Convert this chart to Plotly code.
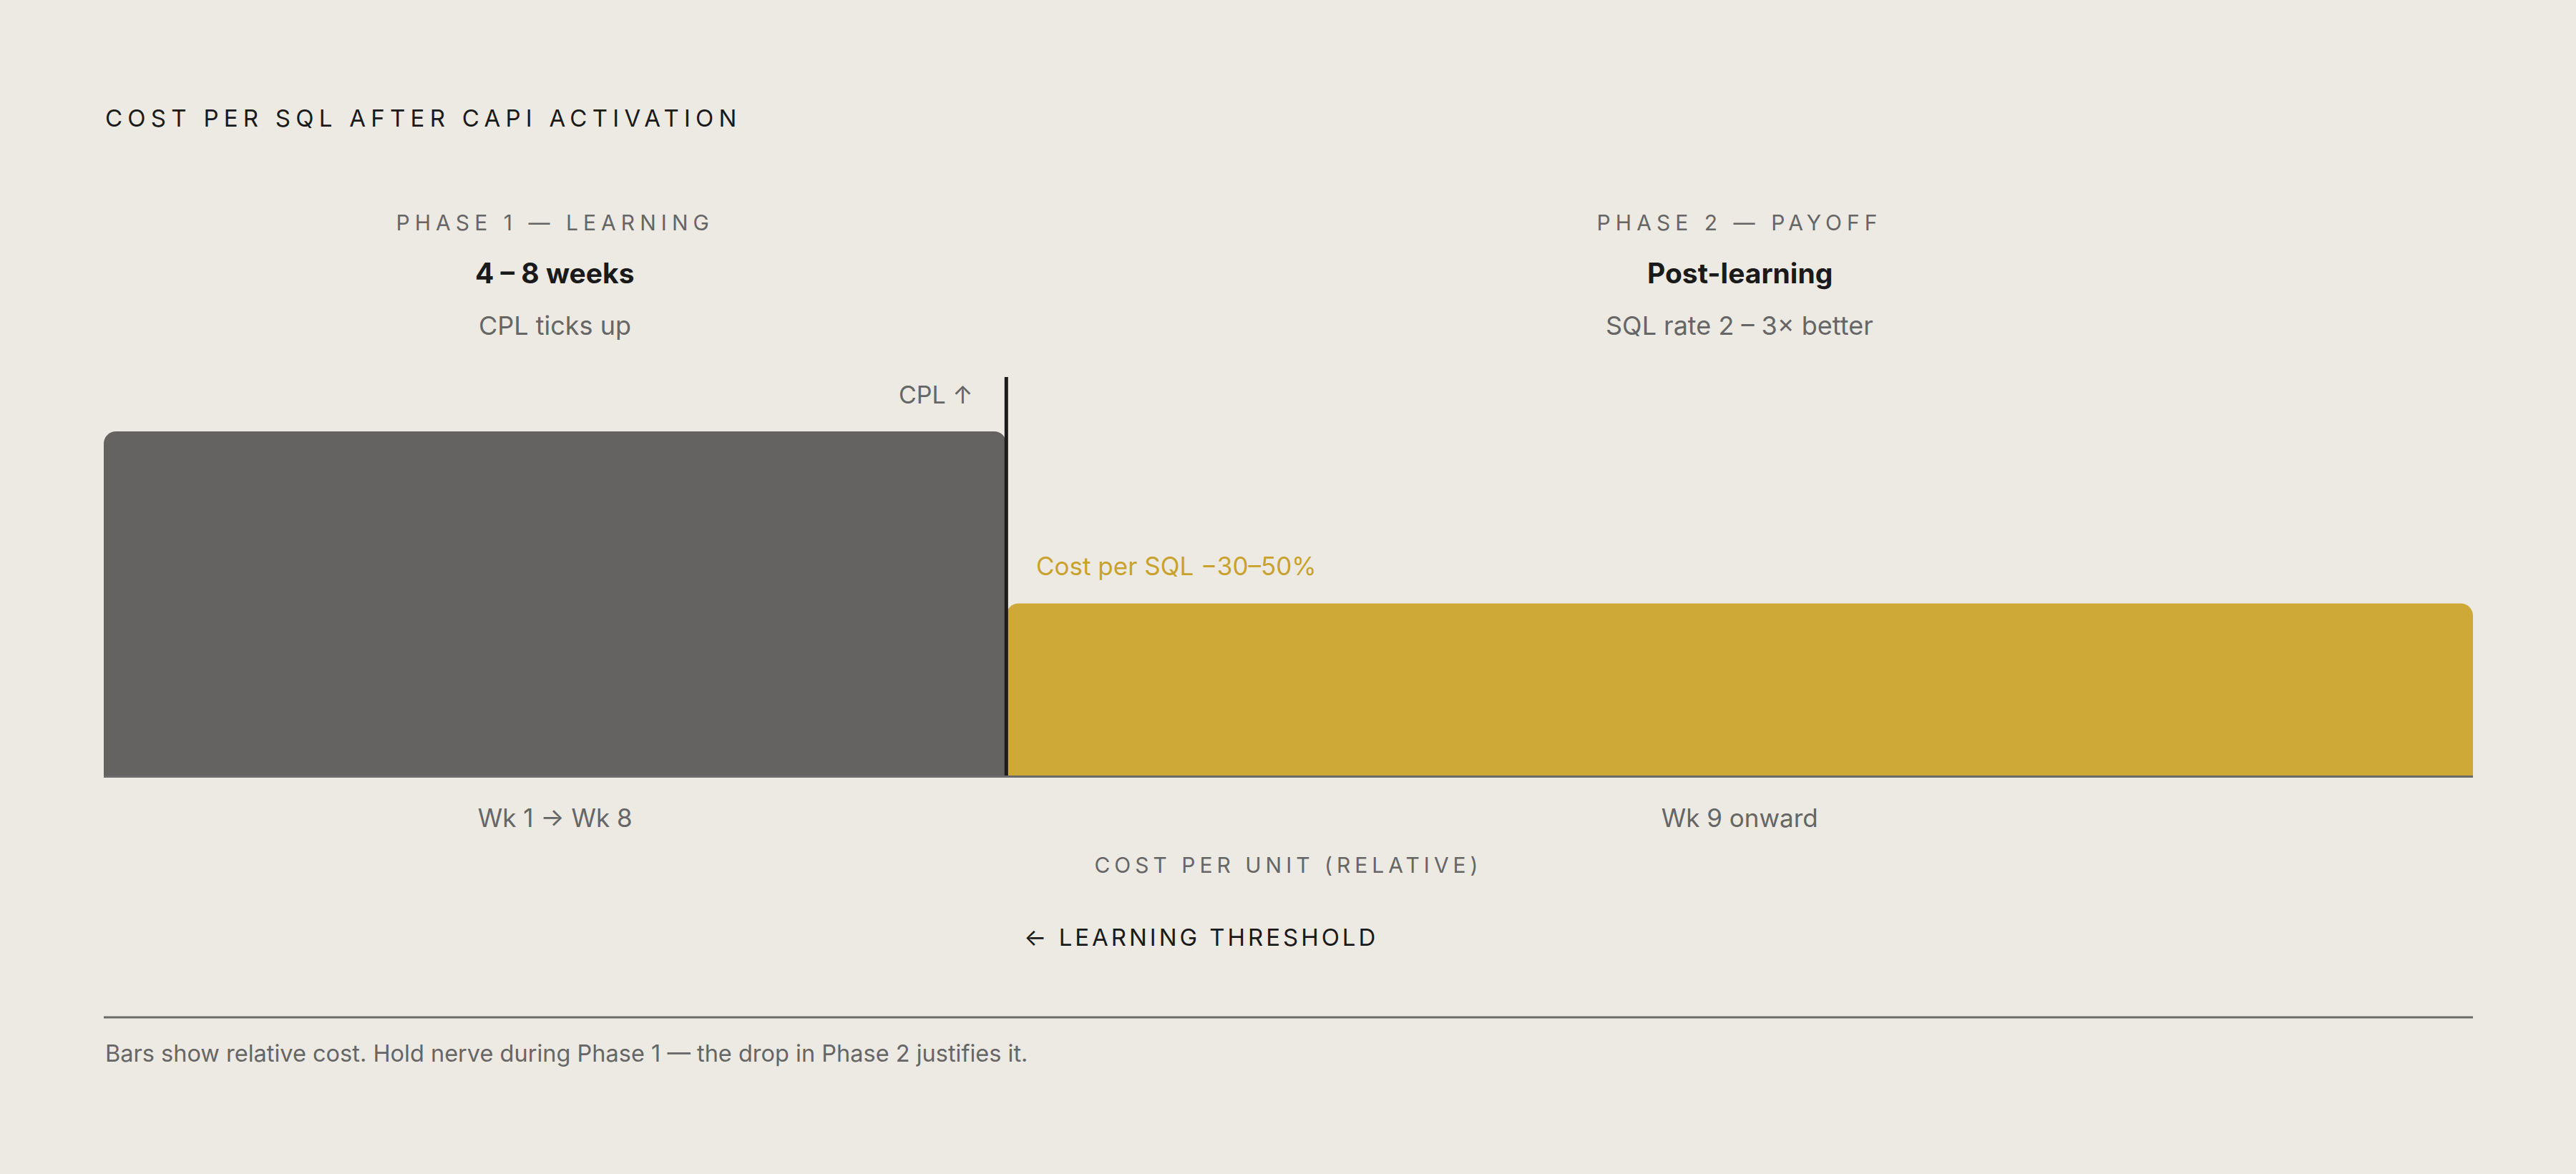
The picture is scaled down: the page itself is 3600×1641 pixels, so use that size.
import plotly.graph_objects as go

# phases on a week axis
week_start = [0, 8]
week_end = [8, 21]
relative_cost = [100, 50]
axis_top = 115.8

phase_ticks = ["Wk 1 → Wk 8", "Wk 9 onward"]
phase_labels = ["PHASE 1 — LEARNING", "PHASE 2 — PAYOFF"]
phase_durations = ["4 – 8 weeks", "Post-learning"]
phase_notes = ["CPL ticks up", "SQL rate 2 – 3× better"]
threshold_week = 8

BG = "#edeae3"
GRAY = "#646361"
GOLD = "#cea937"
INK = "#1a1a1a"
MUTED = "#666666"
FONT = "Inter, Roboto, sans-serif"

W, H = 3600, 1641
L, R, T, B = 145, 144, 527, 557
plot_h = H - T - B


def py(p):
    # pixel row -> paper y
    return (H - B - p) / plot_h


def px(p):
    return (p - L) / (W - L - R)


mids = [(s + e) / 2 for s, e in zip(week_start, week_end)]
widths = [e - s for s, e in zip(week_start, week_end)]

fig = go.Figure()
fig.add_trace(go.Bar(
    x=mids, y=relative_cost, width=widths,
    marker=dict(color=[GRAY, GOLD], line=dict(width=0)),
    hoverinfo="skip", showlegend=False,
))

# learning threshold
fig.add_shape(type="line", x0=threshold_week, x1=threshold_week, xref="x",
              y0=0, y1=1, yref="paper", line=dict(color="#1c1c1c", width=5), layer="above")
# footer rule
fig.add_shape(type="line", x0=0, x1=1, xref="paper", y0=py(1422), y1=py(1422), yref="paper",
              line=dict(color="#6b6b6b", width=3))

ann = []
ann.append(dict(text="COST PER SQL AFTER CAPI ACTIVATION", x=px(145), y=py(165), xanchor="left",
                align="left", font=dict(size=33, color=INK)))
for i in range(2):
    ann.append(dict(text=phase_labels[i], x=mids[i], xref="x", y=py(311),
                    font=dict(size=30, color=MUTED)))
    ann.append(dict(text="<b>" + phase_durations[i] + "</b>", x=mids[i], xref="x", y=py(381),
                    font=dict(size=39, color=INK)))
    ann.append(dict(text=phase_notes[i], x=mids[i], xref="x", y=py(455),
                    font=dict(size=36, color=MUTED)))
ann.append(dict(text="CPL ↑", x=px(1362), y=py(551), xanchor="right", align="right",
                font=dict(size=34, color=MUTED)))
ann.append(dict(text="Cost per SQL −30–50%", x=px(1446), y=py(791), xanchor="left", align="left",
                font=dict(size=35, color="#c9a22e")))
ann.append(dict(text="← LEARNING THRESHOLD", x=px(1429), y=py(1310), xanchor="left", align="left",
                font=dict(size=33, color=INK)))
ann.append(dict(text="Bars show relative cost. Hold nerve during Phase 1 — the drop in Phase 2 justifies it.",
                x=px(145), y=py(1472), xanchor="left", align="left", font=dict(size=32.5, color=MUTED)))
for a in ann:
    a.setdefault("xref", "paper")
    a.update(yref="paper", yanchor="middle", showarrow=False)
    a.setdefault("xanchor", "center")

fig.update_layout(
    width=W, height=H,
    margin=dict(l=L, r=R, t=T, b=B),
    paper_bgcolor=BG, plot_bgcolor=BG,
    font=dict(family=FONT, color=MUTED),
    barcornerradius=17,
    annotations=ann,
)
fig.update_xaxes(range=[week_start[0], week_end[-1]], tickvals=mids, ticktext=phase_ticks,
                 tickfont=dict(size=35, color=MUTED), ticks="", ticklabelstandoff=27,
                 showgrid=False, zeroline=False, showline=True, linecolor="#6b6b6b", linewidth=3,
                 title=dict(text="COST PER UNIT (RELATIVE)", font=dict(size=30, color=MUTED), standoff=36),
                 fixedrange=True)
fig.update_yaxes(range=[0, axis_top], visible=False, fixedrange=True)

spacing = {
    "COST PER SQL AFTER CAPI ACTIVATION": "0.22em",
    "PHASE 1 — LEARNING": "0.235em",
    "PHASE 2 — PAYOFF": "0.235em",
    "COST PER UNIT (RELATIVE)": "0.2em",
    "← LEARNING THRESHOLD": "0.12em",
}
js = "document.body.style.margin = '0';\nvar ls = %s;" % str(spacing).replace("'", '"')
js += """
document.querySelectorAll('text').forEach(function(t){
  if (ls[t.textContent]) { t.style.letterSpacing = ls[t.textContent]; }
});
"""

fig.write_html("out.html", post_script=js, config={"displayModeBar": False})
